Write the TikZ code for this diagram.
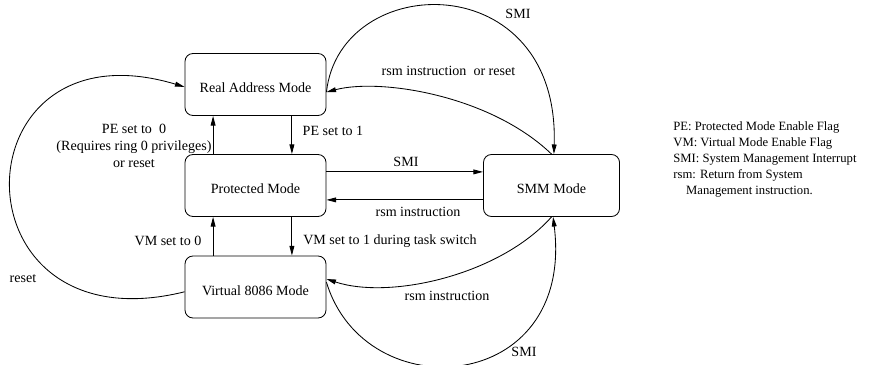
\documentclass[tikz,border=0pt]{standalone}
\usepackage{fontspec}
\setmainfont{Liberation Serif}
\usetikzlibrary{arrows.meta}

\begin{document}
\begin{tikzpicture}[x=0.025cm,y=-0.025cm,line width=0.6pt,
		>={Triangle[length=2.4mm,width=1.2mm]},
		mode/.style={draw,rounded corners=2mm,minimum width=3.525cm,minimum height=1.55cm,text height=12pt,text depth=0pt,font=\fontsize{10}{12}\selectfont},
		lbl/.style={inner sep=0pt,font=\fontsize{10}{12.1}\selectfont}]
		\useasboundingbox (0,0) rectangle (877,365);

		\node[mode] (real) at (255.5,84.5) {Real Address Mode};
		\node[mode] (prot) at (255.5,185.5) {Protected Mode};
		\node[mode] (v86) at (255.5,287) {Virtual 8086 Mode};
		\node[mode,minimum width=3.4cm] (smm) at (551.5,185.5) {SMM Mode};

		% up and down the left column
		\draw[->] ([xshift=9.1mm]real.south) -- ([xshift=9.1mm]prot.north);
		\draw[->] ([xshift=-10.6mm]prot.north) -- ([xshift=-10.6mm]real.south);
		\draw[->] ([xshift=9.1mm]prot.south) -- ([xshift=9.1mm]v86.north);
		\draw[->] ([xshift=-10.6mm]v86.north) -- ([xshift=-10.6mm]prot.south);

		% to and from SMM
		\draw[->] ([yshift=3.4mm]prot.east) -- ([yshift=3.4mm]smm.west);
		\draw[->] ([yshift=-3.6mm]smm.west) -- ([yshift=-3.6mm]prot.east);
		\draw[->] ([yshift=-1.9mm]real.east) .. controls (340,-30) and (560,-35) .. ([xshift=0.6mm]smm.north);
		\draw[->] (smm.north) .. controls (490,95) and (380,78) .. ([yshift=-1.9mm]real.east);
		\draw[->] (smm.south) .. controls (500,275) and (390,300) .. ([yshift=2mm]v86.east);
		\draw[->] ([yshift=1.2mm]v86.east) .. controls (365,410) and (575,395) .. ([xshift=0.4mm]smm.south);

		% reset back to real mode
		\draw[->] ([yshift=-1.2mm]v86.west) .. controls (-50,350) and (-45,18) .. ([yshift=-0.6mm]real.west);

		\node[lbl] (pe1) at (333,131) {PE set to 1};
		\node[lbl,align=center] (pe0) at (134,146) {PE set to\ \ 0\\(Requires ring 0 privileges)\\or reset};
		\node[lbl] (vm0) at (168,241) {VM set to 0};
		\node[lbl] (vm1) at (390,241) {VM set to 1 during task switch};
		\node[lbl] (smi1) at (406,162) {SMI};
		\node[lbl] (rsm1) at (418,212) {rsm instruction};
		\node[lbl] (smi2) at (518,14) {SMI};
		\node[lbl] (rsm2) at (448.5,71) {rsm instruction\ \ or reset};
		\node[lbl] (rsm3) at (447,296) {rsm instruction};
		\node[lbl] (smi3) at (524,352) {SMI};
		\node[lbl] (rst) at (23,279) {reset};

		\node[anchor=north west,align=left,inner sep=0pt,font=\fontsize{9}{11.4}\selectfont] (legend) at (673,121)
			{PE: Protected Mode Enable Flag\\VM: Virtual Mode Enable Flag\\SMI: System Management Interrupt\\rsm: Return from System\\\hspace{3.2mm}Management instruction.};
	\end{tikzpicture}
\end{document}
